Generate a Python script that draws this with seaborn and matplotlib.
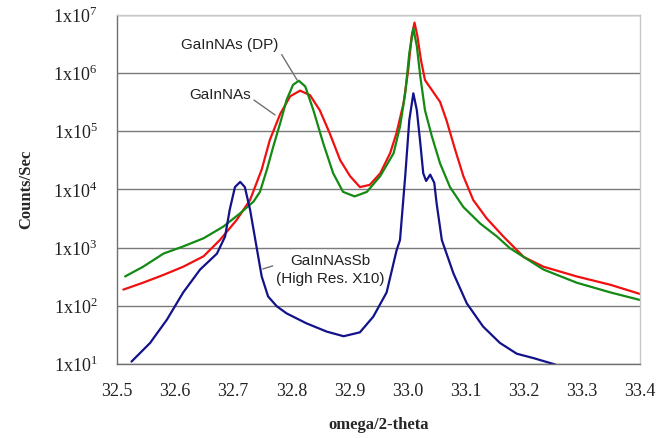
#!/usr/bin/env python3
"""XRD omega/2-theta scans of GaInNAs layers on a log count scale."""
import matplotlib
matplotlib.use("Agg")
import matplotlib.pyplot as plt
import pandas as pd
import seaborn as sns

# GaInNAs (red)
red_x = [32.511, 32.545, 32.580, 32.614, 32.649, 32.677, 32.706, 32.729, 32.749, 32.763,
         32.781, 32.798, 32.815, 32.832, 32.849, 32.866, 32.884, 32.901, 32.918, 32.935,
         32.953, 32.970, 32.981, 32.993, 33.001, 33.007, 33.012, 33.017, 33.023, 33.030,
         33.042, 33.056, 33.067, 33.082, 33.096, 33.113, 33.136, 33.165, 33.200, 33.234,
         33.291, 33.349, 33.400]
red_y = [1.9e2, 2.5e2, 3.4e2, 4.7e2, 7.1e2, 1.35e3, 3.0e3, 6.6e3, 2.2e4, 7.1e4,
         2.0e5, 4.0e5, 5.0e5, 4.2e5, 2.3e5, 9.3e4, 3.2e4, 1.7e4, 1.1e4, 1.2e4,
         1.9e4, 4.2e4, 9.3e4, 3.0e5, 1.1e6, 4.3e6, 7.4e6, 4.3e6, 1.7e6, 7.6e5,
         5.1e5, 3.2e5, 1.55e5, 4.8e4, 1.7e4, 6.6e3, 3.2e3, 1.55e3, 6.9e2, 4.7e2,
         3.2e2, 2.3e2, 1.6e2]

# GaInNAs (DP) (green)
green_x = [32.514, 32.545, 32.580, 32.614, 32.649, 32.683, 32.712, 32.735, 32.746, 32.758,
           32.769, 32.781, 32.792, 32.803, 32.813, 32.824, 32.838, 32.855, 32.872, 32.889,
           32.909, 32.930, 32.953, 32.976, 32.987, 32.996, 33.003, 33.010, 33.016, 33.022,
           33.030, 33.042, 33.056, 33.073, 33.096, 33.125, 33.154, 33.176, 33.234, 33.291,
           33.349, 33.400]
green_y = [3.2e2, 4.7e2, 7.9e2, 1.05e3, 1.45e3, 2.3e3, 3.9e3, 6.2e3, 9.1e3, 2.2e4,
           5.5e4, 1.4e5, 3.5e5, 6.3e5, 7.4e5, 5.9e5, 2.3e5, 6.2e4, 1.9e4, 9.1e3,
           7.6e3, 9.1e3, 1.7e4, 4.2e4, 1.2e5, 4.5e5, 2.2e6, 5.9e6, 2.9e6, 8.7e5,
           2.3e5, 8.1e4, 2.8e4, 1.1e4, 5.0e3, 2.6e3, 1.55e3, 9.8e2, 4.2e2, 2.5e2,
           1.7e2, 1.26e2]

# GaInNAsSb, high resolution x10 (blue)
blue_x = [32.525, 32.557, 32.586, 32.614, 32.643, 32.672, 32.686, 32.694, 32.703, 32.712,
          32.720, 32.729, 32.740, 32.749, 32.760, 32.775, 32.792, 32.826, 32.861, 32.890,
          32.918, 32.941, 32.964, 32.981, 32.987, 32.996, 33.003, 33.010, 33.016, 33.022,
          33.027, 33.032, 33.039, 33.046, 33.050, 33.059, 33.079, 33.102, 33.130, 33.159,
          33.188, 33.217, 33.251, 33.280]
blue_y = [1.1e1, 2.3e1, 5.8e1, 1.7e2, 4.2e2, 7.9e2, 1.55e3, 4.5e3, 1.1e4, 1.35e4,
          1.1e4, 4.5e3, 1.05e3, 3.2e2, 1.45e2, 9.8e1, 7.4e1, 5.0e1, 3.6e1, 3.0e1,
          3.5e1, 6.5e1, 1.7e2, 8.9e2, 1.35e3, 1.7e4, 1.55e5, 4.5e5, 2.3e5, 6.2e4,
          1.9e4, 1.4e4, 1.8e4, 1.3e4, 5.8e3, 1.35e3, 3.6e2, 1.1e2, 4.4e1, 2.3e1,
          1.5e1, 1.26e1, 1.0e1, 8.0]

x_ticks = [32.5, 32.6, 32.7, 32.8, 32.9, 33.0, 33.1, 33.2, 33.3, 33.4]
y_exponents = [1, 2, 3, 4, 5, 6, 7]

series = {"GaInNAs": (red_x, red_y),
          "GaInNAs (DP)": (green_x, green_y),
          "GaInNAsSb": (blue_x, blue_y)}
df = pd.concat([pd.DataFrame({"theta": x, "counts": y, "sample": name})
                for name, (x, y) in series.items()], ignore_index=True)
palette = {"GaInNAs": "#f01010", "GaInNAs (DP)": "#138a13", "GaInNAsSb": "#12128a"}

sns.set_style("white")
plt.rcParams["font.family"] = ["Liberation Serif", "DejaVu Serif"]

fig = plt.figure(figsize=(6.67, 4.38), dpi=100)
ax = fig.add_axes([0.1754, 0.169, 0.7841, 0.7968])

sns.lineplot(data=df, x="theta", y="counts", hue="sample", palette=palette,
             sort=False, estimator=None, legend=False, linewidth=1.6, ax=ax)

ax.set_yscale("log")
ax.set_xlim(32.5, 33.4)
ax.set_ylim(1e1, 1e7)
ax.set_xticks(x_ticks)
ax.set_xticklabels([f"{t:.1f}" for t in x_ticks])
ax.set_yticks([10.0 ** e for e in y_exponents])
ax.set_yticklabels([r"1x10$^{\mathregular{%d}}$" % e for e in y_exponents])
ax.minorticks_off()
ax.tick_params(axis="both", direction="out", length=5, width=1, color="#707070",
               labelsize=13, pad=9, labelcolor="#222222")

ax.yaxis.grid(True, color="#7a7a7a", linewidth=1)
ax.xaxis.grid(False)
ax.set_axisbelow(True)
for side in ("left", "bottom"):
    ax.spines[side].set_color("#707070")
    ax.spines[side].set_linewidth(1)
for side in ("top", "right"):
    ax.spines[side].set_color("#c8c8c8")
    ax.spines[side].set_linewidth(1)

ax.set_xlabel("omega/2-theta", fontsize=12, fontweight="bold", labelpad=12)
ax.set_ylabel("Counts/Sec", fontsize=12, fontweight="bold", labelpad=14)

note = dict(fontsize=11, family=["Liberation Sans", "DejaVu Sans"], color="#222222")
line = dict(arrowstyle="-", color="#707070", lw=1, shrinkA=0, shrinkB=0)
ax.annotate("GaInNAs (DP)", xy=(32.81, 7.6e5), xytext=(32.694, 3.05e6),
            ha="center", va="center", arrowprops=dict(line, relpos=(1.0, 0.2)), **note)
ax.annotate("GaInNAs", xy=(32.772, 1.91e5), xytext=(32.677, 4.22e5),
            ha="center", va="center", arrowprops=dict(line, relpos=(1.0, 0.3)), **note)
ax.annotate("GaInNAsSb\n(High Res. X10)", xy=(32.751, 4.3e2), xytext=(32.867, 4.13e2),
            ha="center", va="center", multialignment="center", linespacing=1.3,
            arrowprops=dict(line, relpos=(0.08, 0.75)), **note)

fig.savefig("out.png", dpi=100)
